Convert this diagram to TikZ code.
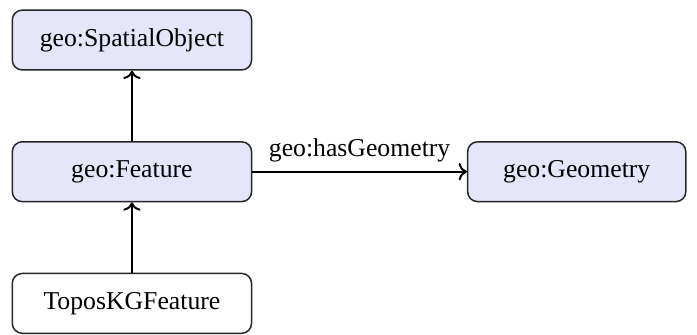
\documentclass[tikz,border=0pt]{standalone}
\usepackage{fontspec}
\setmainfont{Liberation Serif}
\usepackage{xcolor}
\usepackage{tikz}
\usetikzlibrary{arrows.meta, positioning}
\definecolor{classfill}{RGB}{230,230,250}

\begin{document}
\begin{tikzpicture}[
    font=\fontsize{10.4pt}{12pt}\selectfont,
    node distance=1.0cm and 3.05cm,
    class_node/.style={rounded corners=4pt, draw=black!85, fill=classfill, line width=0.6pt, align=center, minimum width=3.4cm, minimum height=0.85cm},
    plain_node/.style={rounded corners=4pt, draw=black!85, fill=white, line width=0.6pt, align=center, minimum width=3.4cm, minimum height=0.85cm},
    arrow/.style={->, line width=0.8pt, draw=black}
]

% Class hierarchy
\node[class_node] (feature) {geo:Feature};
\node[class_node, above=of feature] (spatial) {geo:SpatialObject};
\node[plain_node, below=of feature] (topos) {ToposKGFeature};
\node[class_node, right=of feature, minimum width=3.1cm] (geometry) {geo:Geometry};

\useasboundingbox (-1.875,-2.23) rectangle (8.03,2.44);

% Subclass arrows
\draw[arrow] (feature) -- (spatial);
\draw[arrow] (topos) -- (feature);

% Property
\draw[arrow] (feature) -- node[above] {geo:hasGeometry} (geometry);

\end{tikzpicture}
\end{document}
